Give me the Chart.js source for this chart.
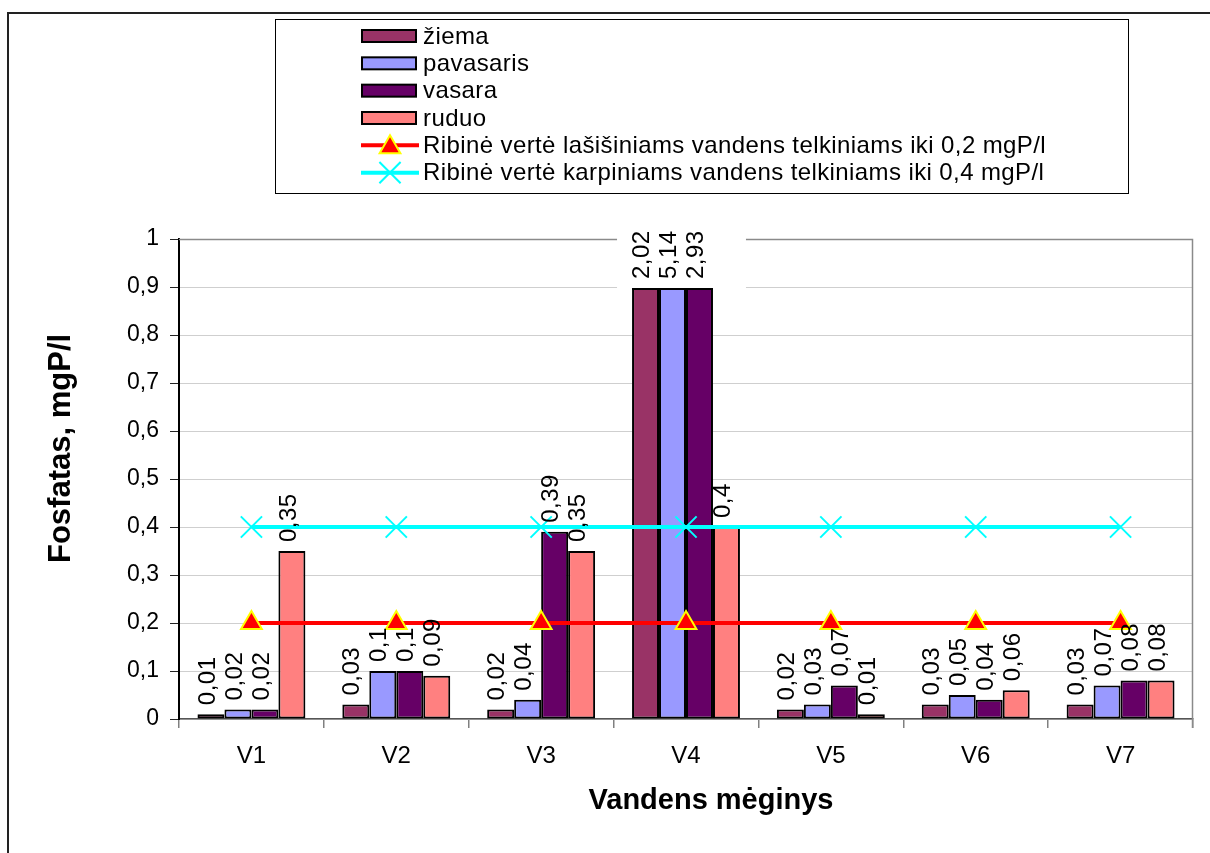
<!DOCTYPE html>
<html>
<head>
<meta charset="utf-8">
<script src="https://cdn.jsdelivr.net/npm/chart.js@4/dist/chart.umd.min.js"></script>
<style>
html,body{margin:0;padding:0;background:#fff;}
canvas{display:block;}
</style>
</head>
<body>
<canvas id="c" width="1210" height="853"></canvas>
<script>
const categories = ['V1','V2','V3','V4','V5','V6','V7'];
const ziema     = [0.01, 0.03, 0.02, 2.02, 0.02, 0.03, 0.03];
const pavasaris = [0.02, 0.10, 0.04, 5.14, 0.03, 0.05, 0.07];
const vasara    = [0.02, 0.10, 0.39, 2.93, 0.07, 0.04, 0.08];
const ruduo     = [0.35, 0.09, 0.35, 0.40, 0.01, 0.06, 0.08];
const limitLasisiniai = [0.2, 0.2, 0.2, 0.2, 0.2, 0.2, 0.2];
const limitKarpiniai  = [0.4, 0.4, 0.4, 0.4, 0.4, 0.4, 0.4];
const seriesNames = ['žiema','pavasaris','vasara','ruduo',
  'Ribinė vertė lašišiniams vandens telkiniams iki 0,2 mgP/l',
  'Ribinė vertė karpiniams vandens telkiniams iki 0,4 mgP/l'];
const yTickLabels = ['0','0,1','0,2','0,3','0,4','0,5','0,6','0,7','0,8','0,9','1'];
const yTitle = 'Fosfatas, mgP/l';
const xTitle = 'Vandens mėginys';
const breakAt = 0.9;

const FONT = "'Liberation Sans', Arial, sans-serif";
const fmt = v => String(v).replace('.', ',');

function drawTriangle(ctx, x, y, r, fill, stroke, bw) {
  ctx.beginPath();
  ctx.moveTo(x, y - r);
  ctx.lineTo(x + r * Math.sin(2*Math.PI/3), y - r * Math.cos(2*Math.PI/3));
  ctx.lineTo(x + r * Math.sin(4*Math.PI/3), y - r * Math.cos(4*Math.PI/3));
  ctx.closePath();
  ctx.fillStyle = fill; ctx.fill();
  ctx.lineWidth = bw; ctx.strokeStyle = stroke; ctx.stroke();
}
function drawCrossRot(ctx, x, y, r, stroke, bw) {
  const o = r * Math.SQRT1_2;
  ctx.beginPath();
  ctx.moveTo(x - o, y - o); ctx.lineTo(x + o, y + o);
  ctx.moveTo(x + o, y - o); ctx.lineTo(x - o, y + o);
  ctx.lineWidth = bw; ctx.strokeStyle = stroke; ctx.stroke();
}

const framePlugin = {
  id: 'frame',
  beforeDatasetsDraw(chart) {
    const {ctx, chartArea: a} = chart;
    ctx.save();
    ctx.strokeStyle = '#8a8a8a';
    ctx.lineWidth = 1.5;
    ctx.beginPath();
    ctx.moveTo(a.left, a.top + 0.5);
    ctx.lineTo(a.right - 0.5, a.top + 0.5);
    ctx.lineTo(a.right - 0.5, a.bottom + 9);
    ctx.stroke();
    ctx.restore();
  },
  afterDraw(chart) {
    const ctx = chart.ctx;
    ctx.save();
    // outer frame
    ctx.strokeStyle = '#222';
    ctx.lineWidth = 2;
    ctx.strokeRect(8, 13, 1400, 1000);
    // titles
    ctx.fillStyle = '#000';
    ctx.font = "bold 29px " + FONT;
    ctx.textAlign = 'center';
    ctx.textBaseline = 'middle';
    ctx.fillText(xTitle, 711, 801);
    ctx.save();
    ctx.font = "bold 31px " + FONT;
    ctx.textAlign = 'left';
    ctx.textBaseline = 'alphabetic';
    ctx.translate(70, 563);
    ctx.rotate(-Math.PI/2);
    ctx.fillText(yTitle, 0, 0);
    ctx.restore();
    // legend
    const L = {x: 275.5, y: 19.5, w: 853, h: 174};
    ctx.strokeStyle = '#000';
    ctx.lineWidth = 1;
    ctx.strokeRect(L.x, L.y, L.w, L.h);
    ctx.font = "24px " + FONT;
    ctx.textAlign = 'left';
    ctx.textBaseline = 'middle';
    try { ctx.letterSpacing = '0.4px'; } catch(e) {}
    chart.data.datasets.forEach((ds, i) => {
      const cy = 36 + i * 27.33;
      if (ds.type === 'line') {
        ctx.strokeStyle = ds.borderColor;
        ctx.lineWidth = 4;
        ctx.beginPath(); ctx.moveTo(361, cy); ctx.lineTo(419, cy); ctx.stroke();
        if (ds.pointStyle === 'triangle') drawTriangle(ctx, 390, cy + 2, 12, ds.pointBackgroundColor, ds.pointBorderColor, 2);
        else drawCrossRot(ctx, 390, cy, 15, ds.pointBorderColor, 2);
      } else {
        ctx.fillStyle = '#000';
        ctx.fillRect(361, cy - 7, 56, 14);
        ctx.fillStyle = ds.backgroundColor;
        ctx.fillRect(363, cy - 5, 52, 10);
      }
      ctx.fillStyle = '#000';
      ctx.fillText(ds.label, 423, cy + 1);
    });
    ctx.restore();
  }
};

const labelPlugin = {
  id: 'barLabels',
  afterDatasetsDraw(chart) {
    const {ctx, chartArea: a} = chart;
    const y = chart.scales.y;
    const barIdx = chart.data.datasets.map((d, i) => d.type === 'line' ? -1 : i).filter(i => i >= 0);
    const metas = barIdx.map(i => chart.getDatasetMeta(i));
    const yBreak = Math.round(y.getPixelForValue(breakAt));
    ctx.save();
    // off-scale categories: break box
    categories.forEach((c, ci) => {
      const anyOver = barIdx.some(di => chart.data.datasets[di].data[ci] > y.max);
      if (!anyOver) return;
      const first = metas[0].data[ci], last = metas[metas.length - 1].data[ci];
      const l = first.x - first.width / 2 - 15;
      const r = last.x + last.width / 2 + 6;
      ctx.fillStyle = '#fff';
      ctx.fillRect(l, a.top - 17, r - l, yBreak + 1 - (a.top - 17));
      barIdx.forEach((di, k) => {
        if (chart.data.datasets[di].data[ci] > y.max) {
          const el = metas[k].data[ci];
          ctx.fillStyle = '#000';
          ctx.fillRect(el.x - el.width / 2, yBreak + 1, el.width, 2);
        }
      });
    });
    // labels
    ctx.fillStyle = '#000';
    ctx.font = "24px " + FONT;
    try { ctx.letterSpacing = '0.5px'; } catch(e) {}
    ctx.textAlign = 'left';
    ctx.textBaseline = 'middle';
    barIdx.forEach((di, k) => {
      const ds = chart.data.datasets[di];
      metas[k].data.forEach((el, ci) => {
        const v = ds.data[ci];
        const base = v > y.max ? yBreak - 8 : el.y - 9;
        ctx.save();
        ctx.translate(el.x - 3, base);
        ctx.rotate(-Math.PI / 2);
        ctx.fillText(fmt(v), 0, 0);
        ctx.restore();
      });
    });
    ctx.restore();
  }
};

const barDs = (label, data, color) => ({
  type: 'bar', label, data, backgroundColor: color, borderColor: '#000',
  borderWidth: 2, borderSkipped: false, order: 1,
  categoryPercentage: 0.745, barPercentage: 1
});

new Chart(document.getElementById('c'), {
  data: {
    labels: categories,
    datasets: [
      barDs(seriesNames[0], ziema, '#993366'),
      barDs(seriesNames[1], pavasaris, '#9999FF'),
      barDs(seriesNames[2], vasara, '#660066'),
      barDs(seriesNames[3], ruduo, '#FF8080'),
      { type: 'line', label: seriesNames[4], data: limitLasisiniai, order: 0,
        borderColor: '#FF0000', borderWidth: 4, pointStyle: 'triangle', pointRadius: 12,
        pointBackgroundColor: '#FF0000', pointBorderColor: '#FFFF00', pointBorderWidth: 2,
        fill: false, tension: 0 },
      { type: 'line', label: seriesNames[5], data: limitKarpiniai, order: 0,
        borderColor: '#00FFFF', borderWidth: 4, pointStyle: 'crossRot', pointRadius: 15,
        pointBackgroundColor: '#00FFFF', pointBorderColor: '#00FFFF', pointBorderWidth: 2,
        fill: false, tension: 0 }
    ]
  },
  options: {
    responsive: false,
    animation: false,
    layout: { padding: { left: 0, top: 239, right: 7, bottom: 0 } },
    plugins: { legend: { display: false }, tooltip: { enabled: false } },
    scales: {
      x: {
        offset: true,
        grid: { offset: true, drawOnChartArea: false, drawTicks: true, tickLength: 9, color: '#808080', tickColor: '#808080', lineWidth: 1.5 },
        border: { color: '#555', width: 1.5 },
        ticks: { font: { family: FONT, size: 24 }, color: '#000', padding: 14, maxRotation: 0, autoSkip: false },
        afterFit: s => { s.height = 853 - 719; }
      },
      y: {
        min: 0, max: 1,
        ticks: { stepSize: 0.1, callback: (v, i) => yTickLabels[i], font: { family: FONT, size: 23 }, color: '#000', padding: 11 },
        grid: { color: '#CFCFCF', lineWidth: 1, tickLength: 9, tickColor: '#222', drawTicks: true },
        border: { color: '#000', width: 2 },
        afterFit: s => { s.width = 179; }
      }
    }
  },
  plugins: [framePlugin, labelPlugin]
});
</script>
</body>
</html>
